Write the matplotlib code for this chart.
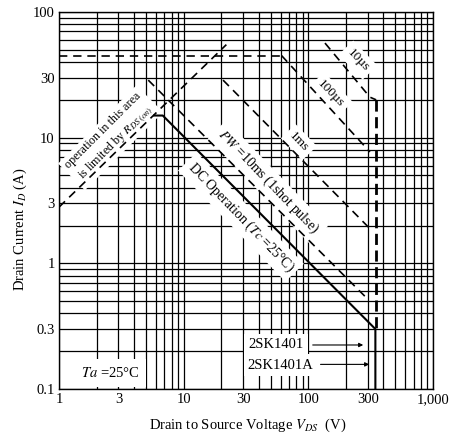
import numpy as np
import matplotlib.pyplot as plt
from matplotlib.ticker import LogLocator, NullFormatter

plt.rcParams['font.family'] = ['Liberation Serif', 'DejaVu Serif']
plt.rcParams['mathtext.fontset'] = 'stix'

# SOA curves (V in volts, I in amperes)
rds_v = [1, 22]
rds_i = [2.8, 55]

pulse_top_v = [1, 61]
pulse_top_i = [45, 45]

us10_v = [136, 312, 350]
us10_i = [56.6, 21, 20]

vmax_v = [350, 350]
vmax_i = [20, 0.3]

us100_v = [61, 312]
us100_i = [45, 7.7]

ms1_v = [20.7, 320]
ms1_i = [28.7, 1.84]

ms10_v = [5.2, 305]
ms10_i = [28.7, 0.51]

dc_v = [5.8, 6.8, 345, 345]
dc_i = [15, 15, 0.3, 0.1]

xticks = [1, 3, 10, 30, 100, 300, 1000]
xlabels = ['1', '3', '10', '30', '100', '300', '1,000']
yticks = [0.1, 0.3, 1, 3, 10, 30, 100]
ylabels = ['0.1', '0.3', '1', '3', '10', '30', '100']

fig = plt.figure(figsize=(4.52, 4.45), dpi=100)
ax = fig.add_axes([59/452, 1-389/445, 374/452, 377/445])
ax.set_xscale('log')
ax.set_yscale('log')
ax.set_xlim(1, 1000)
ax.set_ylim(0.1, 100)

ax.set_xticks(xticks)
ax.set_xticklabels(xlabels)
ax.set_yticks(yticks)
ax.set_yticklabels(ylabels)
ax.xaxis.set_minor_locator(LogLocator(base=10, subs=range(2, 10)))
ax.yaxis.set_minor_locator(LogLocator(base=10, subs=range(2, 10)))
ax.xaxis.set_minor_formatter(NullFormatter())
ax.yaxis.set_minor_formatter(NullFormatter())
ax.tick_params(which='both', length=0, labelsize=10.5, pad=3)
ax.set_axisbelow(True)
ax.grid(which='both', color='black', linewidth=0.9)
for s in ax.spines.values():
    s.set_linewidth(1.0)

dash = dict(color='black', linewidth=1.2, linestyle=(0, (5, 3.5)), zorder=5)
ax.plot(rds_v, rds_i, **dash)
ax.plot(pulse_top_v, pulse_top_i, **dash)
ax.plot(us10_v, us10_i, **dash)
ax.plot(us100_v, us100_i, **dash)
ax.plot(ms1_v, ms1_i, **dash)
ax.plot(ms10_v, ms10_i, **dash)
ax.plot(vmax_v, vmax_i, color='black', linewidth=2.0, linestyle=(0, (4, 2)), zorder=5)
ax.plot(dc_v, dc_i, color='black', linewidth=1.5, zorder=6)

box = dict(facecolor='white', edgecolor='none', pad=3)
ax.text(2.56, 10.1, 'operation in this area\nis limited by $R_{DS\\ (on)}$',
        rotation=45, ha='center', va='center', fontsize=8.7, linespacing=1.4,
        rotation_mode='anchor', bbox=box, zorder=4)
ax.text(47.4, 4.43, '$PW$ =10ms (1shot pulse)', rotation=-46, ha='center', va='center',
        fontsize=10, rotation_mode='anchor', bbox=box, zorder=4)
ax.text(28.8, 2.33, 'DC Operation ($Tc$ =25°C)', rotation=-46, ha='center', va='center',
        fontsize=10, rotation_mode='anchor', bbox=box, zorder=4)
ax.text(84, 9.2, '1ms', rotation=-46, ha='center', va='center', fontsize=9.5,
        rotation_mode='anchor', bbox=box, zorder=4)
ax.text(152, 22.2, '100µs', rotation=-46, ha='center', va='center', fontsize=9.5,
        rotation_mode='anchor', bbox=box, zorder=4)
ax.text(250, 41.4, '10µs', rotation=-46, ha='center', va='center', fontsize=9.5,
        rotation_mode='anchor', bbox=box, zorder=4)
ax.text(2.56, 0.134, '$Ta$ =25°C', ha='center', va='center', fontsize=10.5,
        bbox=dict(facecolor='white', edgecolor='none', pad=5), zorder=4)
ax.text(55, 0.224, '2SK1401', ha='center', va='center', fontsize=10.5, bbox=box, zorder=4)
ax.text(60, 0.155, '2SK1401A', ha='center', va='center', fontsize=10.5, bbox=box, zorder=4)
ax.annotate('', xy=(290, 0.224), xytext=(103, 0.224),
            arrowprops=dict(arrowstyle='-|>', color='black', lw=0.8, mutation_scale=6), zorder=5)
ax.annotate('', xy=(324, 0.157), xytext=(119, 0.157),
            arrowprops=dict(arrowstyle='-|>', color='black', lw=0.8, mutation_scale=6), zorder=5)

fig.text(20/452, 1-229/445, 'Drain Current $I_D$ (A)', rotation=90, ha='center', va='center',
         fontsize=10.5)
fig.text(248/452, 1-425/445, 'Drain to Source Voltage $V_{DS}$  (V)', ha='center', va='center',
         fontsize=10.5)

fig.savefig('out.png', dpi=100)
